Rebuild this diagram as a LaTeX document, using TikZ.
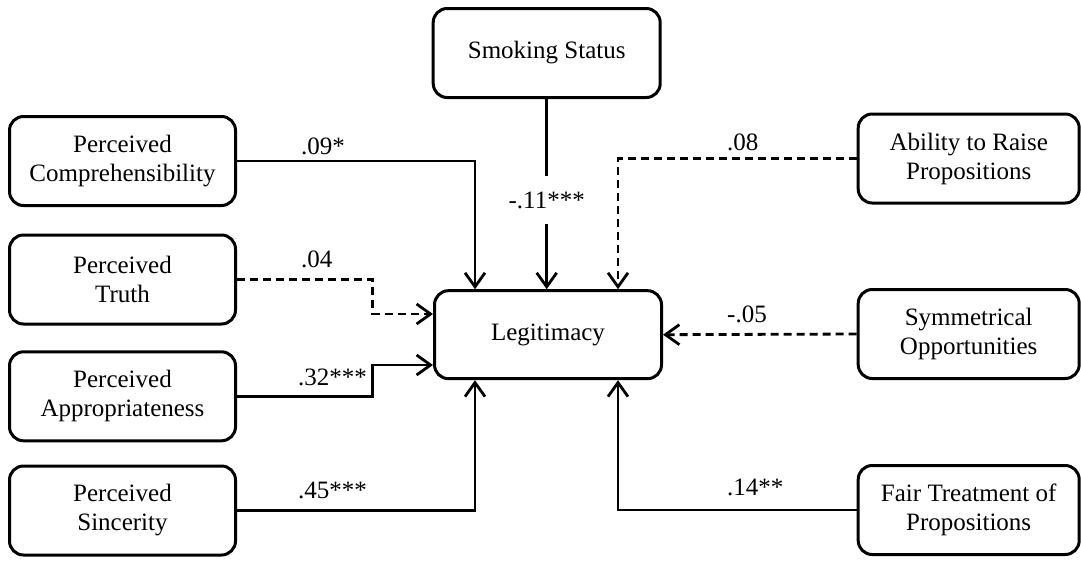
\documentclass[tikz,border=0pt]{standalone}
\usepackage{fontspec}
\setmainfont{Liberation Serif}
\usetikzlibrary{arrows.meta}
\begin{document}
\begin{tikzpicture}[x=1pt,y=-1pt,
  box/.style={draw,line width=3pt,rounded corners=14pt,align=center,
    inner sep=0pt,font=\fontsize{25}{29}\selectfont},
  lbox/.style={box,minimum width=226pt,minimum height=89pt},
  rbox/.style={box,minimum width=221pt,minimum height=89pt},
  ln/.style={line width=2.8pt},
  arr/.style={ln,-{Straight Barb[length=14pt,width=20pt,line width=2.8pt]}},
  dsh/.style={dash pattern=on 8pt off 5pt},
  coef/.style={inner sep=0pt,anchor=base west,font=\fontsize{25}{29}\selectfont}]
\useasboundingbox (0,0) rectangle (1081,560);
% nodes
\node[box,minimum width=227pt,minimum height=89pt] (smoke) at (546.7,53) {Smoking Status};
\node[box,minimum width=227pt,minimum height=88pt] (legit) at (548,334.7) {Legitimacy};
\node[lbox] (comp) at (122.5,161) {Perceived\\Comprehensibility};
\node[lbox] (truth) at (122.5,279.5) {Perceived\\Truth};
\node[lbox] (appr) at (122.5,396.3) {Perceived\\Appropriateness};
\node[lbox] (sinc) at (122.5,510.5) {Perceived\\Sincerity};
\node[rbox] (abil) at (968.7,158.5) {Ability to Raise\\Propositions};
\node[rbox] (sym) at (968.7,334) {Symmetrical\\Opportunities};
\node[rbox] (fair) at (968.7,510) {Fair Treatment of\\Propositions};
% helper coordinates
\coordinate (xa) at (475,0);
\coordinate (xb) at (372.7,0);
\coordinate (xd) at (618,0);
\coordinate (yt) at (0,314);
\coordinate (ya) at (0,365);
% smoking label (gap in the line)
\node[inner sep=0pt,minimum height=48pt,font=\fontsize{25}{29}\selectfont] (lsm) at (546.7,200) {-.11***};
% connectors
\draw[ln] (smoke.south) -- (lsm.north);
\draw[arr] (lsm.south) -- (lsm.south |- legit.north);
\draw[arr] (comp.east) -| (xa |- legit.north);
\draw[arr,dsh] (truth.east) -| (xb |- yt) -- (legit.west |- yt);
\draw[arr] (appr.east) -| (xb |- ya) -- (legit.west |- ya);
\draw[arr] (sinc.east) -| (xa |- legit.south);
\draw[arr,dsh] (abil.west) -| (xd |- legit.north);
\draw[arr,dsh] (sym.west) -- (legit.east);
\draw[arr] (fair.west) -| (xd |- legit.south);
% coefficients
\node[coef] (c1) at (301,154) {.09*};
\node[coef] (c2) at (301,267) {.04};
\node[coef] (c3) at (298,385) {.32***};
\node[coef] (c4) at (298,498) {.45***};
\node[coef] (c5) at (727,150) {.08};
\node[coef] (c6) at (727,322) {-.05};
\node[coef] (c7) at (727,495) {.14**};
\end{tikzpicture}
\end{document}
